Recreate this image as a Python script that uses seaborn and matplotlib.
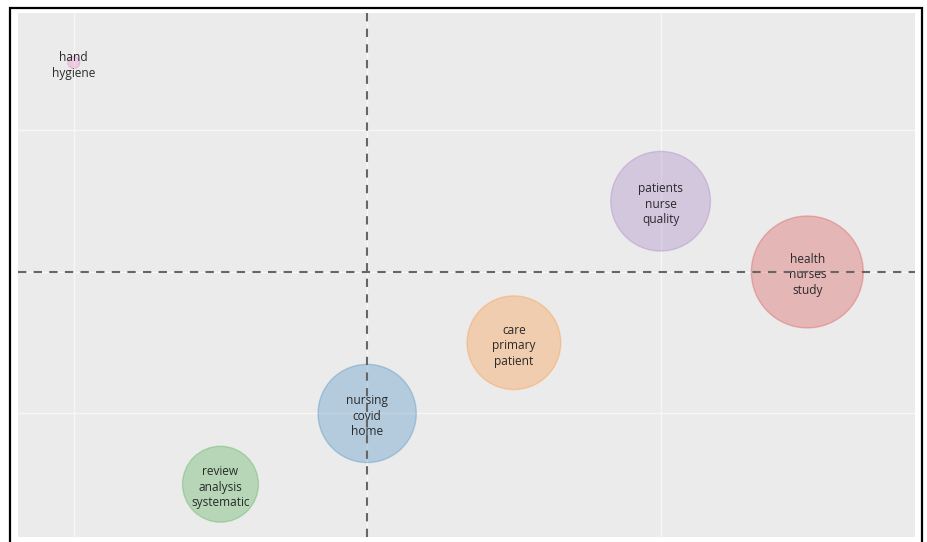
import pandas as pd
import matplotlib.pyplot as plt
import seaborn as sns
from matplotlib.patches import Rectangle

# Thematic map data (centrality vs density)
themes = ["nursing covid home", "care primary patient", "review analysis systematic",
          "health nurses study", "patients nurse quality", "hand hygiene"]
centrality = [0.0, 0.5, -0.5, 1.5, 1.0, -1.0]
density = [-1.0, -0.5, -1.5, 0.0, 0.5, 1.48]
freq = [67, 61, 40, 87, 69, 1]

data = pd.DataFrame({"theme": themes, "centrality": centrality,
                     "density": density, "freq": freq})

sns.set_theme(style="darkgrid", rc={"axes.facecolor": "#ebebeb",
                                    "grid.color": "#f7f7f7", "grid.linewidth": 1.0})
plt.rcParams['font.family'] = ['Open Sans', 'DejaVu Sans']

fig = plt.figure(figsize=(9.28, 5.42), dpi=100)
ax = fig.add_axes([18 / 928, 1 - 537 / 542, 897 / 928, 524 / 542])

tab = sns.color_palette("tab10")
palette = [tab[0], tab[1], tab[2], tab[3], tab[4], tab[6]]
sns.scatterplot(data=data, x="centrality", y="density", hue="theme", size="freq",
                sizes=(0, 6500), size_norm=(0, 87), palette=palette, alpha=0.27,
                edgecolor="face", linewidth=1, legend=False, ax=ax, zorder=2)

for _, row in data.iterrows():
    ax.text(row["centrality"], row["density"] - 0.02, "\n".join(row["theme"].split()),
            ha="center", va="center", fontsize=8.6, color="#2a2a2a",
            linespacing=1.25, zorder=3)

# Quadrant lines
ax.axvline(0, color="#666666", linestyle=(0, (4, 3.5)), linewidth=1.5, zorder=4)
ax.axhline(0, color="#666666", linestyle=(0, (4, 3.5)), linewidth=1.5, zorder=4)

ax.set_xlim(-1.19, 1.867)
ax.set_ylim(-1.873, 1.83)
ax.set_xticks([-1, 0, 1])
ax.set_yticks([-1, 0, 1])
ax.tick_params(length=0, labelbottom=False, labelleft=False)
ax.set_xlabel("")
ax.set_ylabel("")
for s in ax.spines.values():
    s.set_visible(False)

# Screenshot frame
fig.patches.append(Rectangle((10 / 928, -0.05), 912 / 928, 1 - 8 / 542 + 0.05,
                             transform=fig.transFigure, fill=False,
                             edgecolor="black", linewidth=1.6, clip_on=False))

fig.savefig("out.png", dpi=100, facecolor="white")
